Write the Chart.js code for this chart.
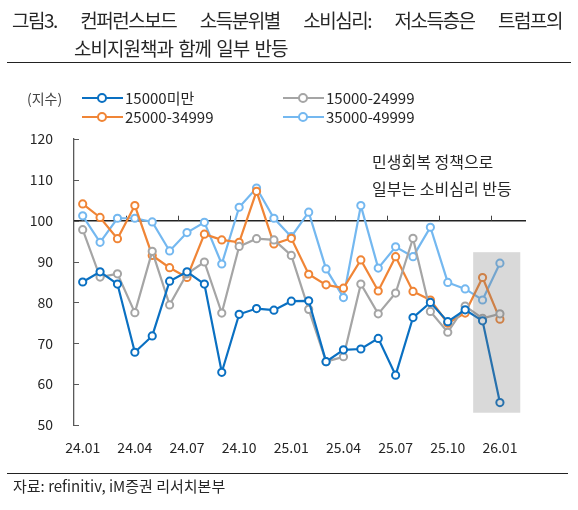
<!DOCTYPE html>
<html>
<head>
<meta charset="utf-8">
<script src="https://cdn.jsdelivr.net/npm/chart.js@4/dist/chart.umd.min.js"></script>
<style>
  body { margin: 0; background: #fff; font-family: "Noto Sans CJK KR", "Noto Sans", sans-serif; color: #262626; }
  #wrap { position: relative; width: 578px; height: 510px; overflow: hidden; }
  #myLineChart { position: absolute; left: 0; top: 0; }
  .txt { position: absolute; white-space: nowrap; }
  #title1 { left: 12px; top: 6px; width: 550px; display: flex; justify-content: space-between; font-size: 19px; letter-spacing: -1.5px; line-height: 28px; }
  #title2 { left: 74px; top: 34px; font-size: 19px; letter-spacing: -1px; word-spacing: 2px; line-height: 28px; }
  .rule { position: absolute; height: 0; border-top: 1.5px solid #222; }
  #unit { left: 27px; top: 88px; font-size: 14px; color: #444; }
  .leg { position: absolute; font-size: 15px; line-height: 18px; height: 18px; display: flex; align-items: center; }
  .leg .ln { position: relative; width: 41px; height: 0; border-top: 2.5px solid; margin-right: 2px; }
  .leg .dot { position: absolute; left: 15px; top: -6.5px; width: 6px; height: 6px; border: 2px solid; border-radius: 50%; background: #fff; }
  #note { left: 372px; top: 148px; font-size: 16px; line-height: 26.5px; }
  #src { left: 13px; top: 475px; font-size: 15px; }
</style>
</head>
<body>
<div id="wrap">
  <canvas id="myLineChart" width="578" height="510"></canvas>
  <div id="title1" class="txt"><span>그림3.</span><span>컨퍼런스보드</span><span>소득분위별</span><span>소비심리:</span><span>저소득층은</span><span>트럼프의</span></div>
  <div id="title2" class="txt">소비지원책과 함께 일부 반등</div>
  <div class="rule" style="left:7px; top:62px; width:564px;"></div>
  <div id="unit" class="txt">(지수)</div>
  <div id="legend"></div>
  <div id="note" class="txt">민생회복 정책으로<br>일부는 소비심리 반등</div>
  <div class="rule" style="left:7px; top:473px; width:561px;"></div>
  <div id="src" class="txt">자료: refinitiv, iM증권 리서치본부</div>
</div>
<script>
// Months on the x axis (last slot left empty)
var months = ['24.01','24.02','24.03','24.04','24.05','24.06','24.07','24.08','24.09','24.10','24.11','24.12',
              '25.01','25.02','25.03','25.04','25.05','25.06','25.07','25.08','25.09','25.10','25.11','25.12',
              '26.01','26.02'];

var seriesNames = ['15000미만', '15000-24999', '25000-34999', '35000-49999'];
var seriesColors = ['#0A70C2', '#A5A5A5', '#F08536', '#74B8F0'];

// Index values per income group
var under15k = [85.0, 87.5, 84.5, 67.8, 71.8, 85.2, 87.5, 84.5, 62.9, 77.1, 78.5, 78.1,
                80.3, 80.4, 65.5, 68.4, 68.6, 71.2, 62.2, 76.3, 80.0, 75.3, 78.2, 75.5, 55.5];
var from15to25k = [97.8, 86.2, 87.0, 77.5, 92.5, 79.4, 87.0, 89.9, 77.4, 93.7, 95.6, 95.3,
                   91.5, 78.3, 65.5, 66.7, 84.5, 77.2, 82.3, 95.7, 77.8, 72.7, 79.1, 76.1, 77.2];
var from25to35k = [104.1, 100.8, 95.6, 103.7, 91.5, 88.5, 86.1, 96.7, 95.3, 94.7, 107.2, 94.3,
                   95.7, 86.9, 84.3, 83.5, 90.4, 82.8, 91.2, 82.7, 80.6, 74.9, 77.4, 86.1, 75.9];
var from35to50k = [101.2, 94.7, 100.6, 100.6, 99.7, 92.6, 97.1, 99.6, 89.4, 103.3, 108.0, 100.6,
                   96.1, 102.1, 88.2, 81.2, 103.7, 88.4, 93.6, 91.2, 98.4, 84.9, 83.3, 80.6, 89.6];

// y axis ticks and reference line
var yTicks = [50, 60, 70, 80, 90, 100, 110, 120];
var baseLine = 100;
var tickEvery = 3;

// highlighted period box: [x from, x to (category index), y from, y to]
var shadeBox = [22.46, 25.17, 53, 92.3];

var allSeries = [under15k, from15to25k, from25to35k, from35to50k];

// Legend (two columns, two rows)
var legendPos = [[82, 89], [283, 89], [82, 108], [283, 108]];
var legendDiv = document.getElementById('legend');
seriesNames.forEach(function (name, i) {
    var item = document.createElement('div');
    item.className = 'leg';
    item.style.left = legendPos[i][0] + 'px';
    item.style.top = legendPos[i][1] + 'px';
    item.innerHTML = '<span class="ln" style="border-color:' + seriesColors[i] + '"><span class="dot" style="border-color:' +
        seriesColors[i] + '"></span></span><span>' + name + '</span>';
    legendDiv.appendChild(item);
});

// Extra drawing: 100 line with ticks, inward y ticks, shaded box
var decor = {
    id: 'decor',
    beforeDatasetsDraw: function (chart) {
        var ctx = chart.ctx, x = chart.scales.x, y = chart.scales.y, area = chart.chartArea;
        ctx.save();
        ctx.strokeStyle = '#222';
        ctx.lineWidth = 1.5;
        var y100 = y.getPixelForValue(baseLine);
        ctx.beginPath();
        ctx.moveTo(area.left, y100);
        ctx.lineTo(area.right, y100);
        ctx.stroke();
        ctx.lineWidth = 1;
        ctx.strokeStyle = '#444';
        for (var k = tickEvery; k < months.length; k += tickEvery) {
            var px = Math.round((x.getPixelForValue(k - 1) + x.getPixelForValue(k)) / 2) + 0.5;
            ctx.beginPath();
            ctx.moveTo(px, y100);
            ctx.lineTo(px, y100 - 5);
            ctx.stroke();
        }
        ctx.strokeStyle = '#595959';
        yTicks.forEach(function (v) {
            var py = Math.round(y.getPixelForValue(v)) + 0.5;
            ctx.beginPath();
            ctx.moveTo(area.left, py);
            ctx.lineTo(area.left + 5, py);
            ctx.stroke();
        });
        ctx.restore();
    },
    afterDatasetsDraw: function (chart) {
        var ctx = chart.ctx, x = chart.scales.x, y = chart.scales.y;
        var x1 = x.getPixelForValue(shadeBox[0]), x2 = x.getPixelForValue(shadeBox[1]);
        var y1 = y.getPixelForValue(shadeBox[3]), y2 = y.getPixelForValue(shadeBox[2]);
        ctx.save();
        ctx.fillStyle = 'rgba(120,120,120,0.28)';
        ctx.fillRect(x1, y1, x2 - x1, y2 - y1);
        ctx.restore();
    }
};

var ctx = document.getElementById('myLineChart').getContext('2d');
var LineChart = new Chart(ctx, {
    type: 'line',
    data: {
        labels: months,
        datasets: allSeries.map(function (vals, i) {
            return {
                label: seriesNames[i],
                data: vals,
                borderColor: seriesColors[i],
                backgroundColor: '#fff',
                pointBackgroundColor: '#fff',
                pointBorderColor: seriesColors[i],
                pointRadius: 3.6,
                pointBorderWidth: 2,
                borderWidth: 2.2,
                tension: 0,
                fill: false
            };
        })
    },
    options: {
        responsive: false,
        animation: false,
        devicePixelRatio: 1,
        layout: { padding: { left: 0, top: 139, right: 52, bottom: 45 } },
        plugins: { legend: { display: false }, tooltip: { enabled: false } },
        scales: {
            x: {
                type: 'category',
                offset: true,
                grid: { display: false },
                border: { display: false },
                afterFit: function (s) { s.height = 40; },
                ticks: {
                    autoSkip: false,
                    maxRotation: 0,
                    padding: 6,
                    color: '#262626',
                    font: { family: "'Noto Sans CJK KR', 'Noto Sans', sans-serif", size: 14 },
                    callback: function (val, idx) { return (idx % tickEvery === 0 && idx < 25) ? months[idx] : ''; }
                }
            },
            y: {
                min: 50,
                max: 120,
                afterFit: function (s) { s.width = 74; },
                grid: { display: true, drawOnChartArea: false, drawTicks: false },
                border: { display: true, color: '#595959', width: 1.3 },
                ticks: {
                    stepSize: 10,
                    padding: 21,
                    color: '#262626',
                    font: { family: "'Noto Sans CJK KR', 'Noto Sans', sans-serif", size: 14 }
                }
            }
        }
    },
    plugins: [decor]
});
</script>
</body>
</html>
